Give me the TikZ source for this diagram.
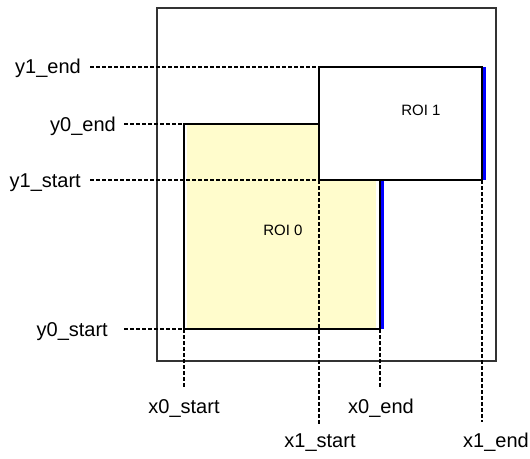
\documentclass[tikz,border=0pt]{standalone}
\usepackage{fontspec}
\setmainfont{Liberation Sans}
\usetikzlibrary{calc}

\begin{document}
\begin{tikzpicture}[x=1pt, y=-1pt,
    lbl/.style={inner sep=0pt, font=\fontsize{20}{24}\selectfont},
    roilbl/.style={inner sep=0pt, font=\fontsize{15}{18}\selectfont},
    guide/.style={line width=1.3pt, dash pattern=on 4pt off 2pt},
    edge/.style={line width=1.5pt},
    hilite/.style={blue, line width=3pt}]
  \useasboundingbox (0,0) rectangle (530,458);

  \coordinate (r0tl) at (184,124);
  \coordinate (r0br) at (380,329);
  \coordinate (r1tl) at (319,67);
  \coordinate (r1br) at (482,180);

  \draw[black!80, line width=1.5pt] (157,8) rectangle (496,361);

  % ROI 0
  \fill[yellow!20] (187,124) rectangle (376,329);
  \draw[edge] (r0tl) rectangle (r0br);
  \draw[hilite] ($(r0br)+(2pt,0pt)$) -- ($(r0br |- r0tl)+(2pt,0pt)$);
  \node[roilbl] (roi0) at (283,230) {ROI 0};

  % ROI 1
  \draw[edge, fill=white] (r1tl) rectangle (r1br);
  \draw[hilite] ($(r1br)+(2.5pt,0pt)$) -- ($(r1br |- r1tl)+(2.5pt,0pt)$);
  \node[roilbl] (roi1) at (421,110) {ROI 1};

  \node[lbl, anchor=base east] (y1e) at (81,73)  {y1\_end};
  \node[lbl, anchor=base east] (y0e) at (116,131) {y0\_end};
  \node[lbl, anchor=base east] (y1s) at (81,187) {y1\_start};
  \node[lbl, anchor=base east] (y0s) at (108,336) {y0\_start};

  \node[lbl, anchor=base] (x0s) at (184,413) {x0\_start};
  \node[lbl, anchor=base] (x0e) at (381,413) {x0\_end};
  \node[lbl, anchor=base] (x1s) at (320,447) {x1\_start};
  \node[lbl, anchor=base] (x1e) at (496,447) {x1\_end};

  % guides
  \draw[guide] ($(y1e.east |- r1tl)+(9pt,0pt)$) -- (r1tl);
  \draw[guide] ($(y0e.east |- r0tl)+(8pt,0pt)$) -- (r0tl);
  \draw[guide] ($(y1s.east |- r1br)+(9pt,0pt)$) -- (r1br -| r1tl);
  \draw[guide] ($(y0s.east |- r0br)+(16pt,0pt)$) -- (r0br -| r0tl);

  \draw[guide] (r0br -| r0tl) -- ($(x0s.north -| r0tl)+(0pt,10pt)$);
  \draw[guide] (r0br) -- ($(x0e.north -| r0br)+(0pt,10pt)$);
  \draw[guide] (r1br -| r1tl) -- ($(x1s.north -| r1tl)+(0pt,9pt)$);
  \draw[guide] (r1br) -- ($(x1e.north -| r1br)+(0pt,10pt)$);
\end{tikzpicture}
\end{document}
